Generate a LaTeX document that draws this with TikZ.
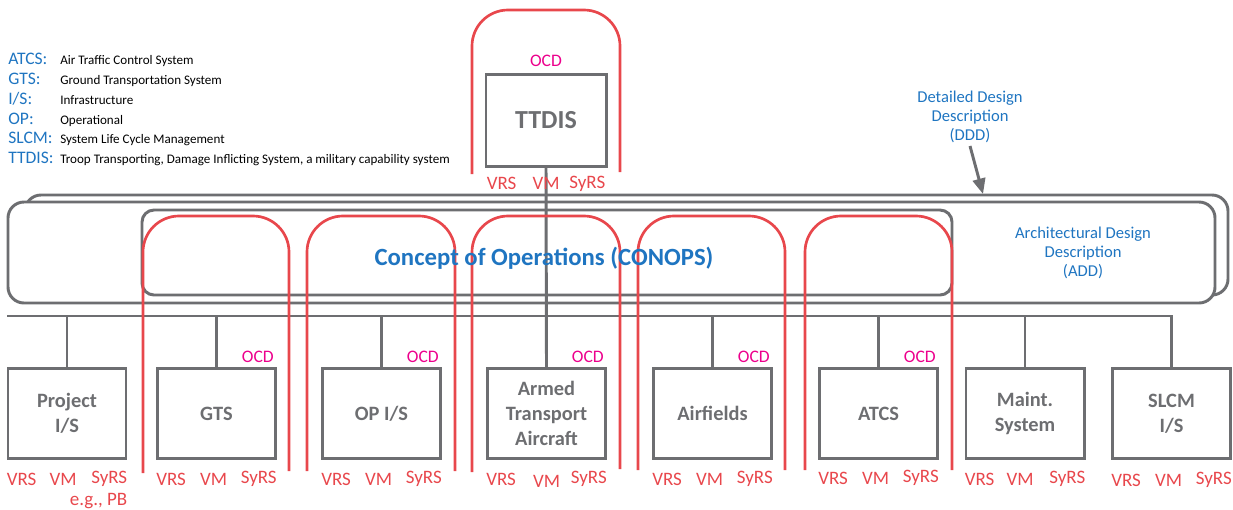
\documentclass[tikz,border=0pt]{standalone}
\usepackage{fontspec}
\setmainfont{Carlito}
\usetikzlibrary{arrows.meta,calc}

\definecolor{sysgray}{HTML}{6D6E71}
\definecolor{docred}{HTML}{E8474C}
\definecolor{ocdpink}{HTML}{EC008C}
\definecolor{descblue}{HTML}{1F75C1}

\begin{document}
\begin{tikzpicture}[x=0.025cm,y=-0.025cm,
    sysbox/.style={draw=sysgray, line width=2.1pt, minimum width=2.95cm, minimum height=2.25cm,
        align=center, text=sysgray, font=\bfseries\fontsize{14.5}{17.5}\selectfont},
    docline/.style={draw=sysgray, line width=2.1pt},
    busline/.style={draw=sysgray, line width=2.1pt},
    docarc/.style={draw=docred, line width=1.9pt, rounded corners=0.9cm},
    reqlbl/.style={text=docred, inner sep=0pt, font=\fontsize{13.5}{16}\selectfont},
    ocdlbl/.style={text=ocdpink, inner sep=0pt, font=\fontsize{12.5}{15}\selectfont},
    desclbl/.style={text=descblue, align=center, inner sep=0pt, font=\fontsize{11.8}{13.5}\selectfont},
    abbr/.style={text=descblue, inner sep=0pt, anchor=base west, font=\fontsize{12.5}{14}\selectfont},
    meaning/.style={text=black, inner sep=0pt, anchor=base west, font=\fontsize{9.3}{11}\selectfont}]
    \useasboundingbox (0,0) rectangle (1233,509);

    % legend
    \node[abbr] (abatcs) at (8,64) {ATCS:};
    \node[meaning] (mnatcs) at (60,64) {Air Traffic Control System};
    \node[abbr] (abgts) at (8,84) {GTS:};
    \node[meaning] (mngts) at (60,84) {Ground Transportation System};
    \node[abbr] (abis) at (8,104) {I/S:};
    \node[meaning] (mnis) at (60,104) {Infrastructure};
    \node[abbr] (abop) at (8,124) {OP:};
    \node[meaning] (mnop) at (60,124) {Operational};
    \node[abbr] (abslcm) at (8,143) {SLCM:};
    \node[meaning] (mnslcm) at (60,143) {System Life Cycle Management};
    \node[abbr] (abttdis) at (8,163) {TTDIS:};
    \node[meaning] (mnttdis) at (60,163) {Troop Transporting, Damage Inflicting System, a military capability system};

    % DDD, ADD and CONOPS
    \draw[docline, rounded corners=0.4cm] (25,195) rectangle (1228,295);
    \draw[docline, fill=white, rounded corners=0.4cm] (8,202) rectangle (1215,303);
    \draw[docline, rounded corners=0.3cm] (142,210) rectangle (952,295);

    % top system
    \node[sysbox, minimum width=3cm, minimum height=2.28cm, font=\bfseries\fontsize{18.5}{22}\selectfont] (ttdis) at (546,120.5) {TTDIS};

    % subsystems
    \node[sysbox] (proj) at (67,413.5) {Project\\I/S};
    \node[sysbox] (gts) at (216.5,413.5) {GTS};
    \node[sysbox] (opis) at (381.5,413.5) {OP I/S};
    \node[sysbox] (armed) at (546.5,413.5) {Armed\\Transport\\Aircraft};
    \node[sysbox] (airf) at (712.5,413.5) {Airfields};
    \node[sysbox] (atcs) at (878.5,413.5) {ATCS};
    \node[sysbox] (maint) at (1025,413.5) {Maint.\\System};
    \node[sysbox] (slcm) at (1171.5,413.5) {SLCM\\I/S};

    % bus
    \coordinate (bus) at (7,316);
    \draw[busline] (ttdis.south) -- (armed.north);
    \draw[busline] (bus) -- (bus -| slcm.north) -- (slcm.north);
    \draw[busline] (proj.north) -- (proj.north |- bus);
    \draw[busline] (gts.north) -- (gts.north |- bus);
    \draw[busline] (opis.north) -- (opis.north |- bus);
    \draw[busline] (airf.north) -- (airf.north |- bus);
    \draw[busline] (atcs.north) -- (atcs.north |- bus);
    \draw[busline] (maint.north) -- (maint.north |- bus);

    % OCD arcs
    \draw[docarc] (472,174) -- (472,10) -- (620,10) -- (620,172);
    \draw[docarc] (143,473) -- (143,216) -- (289,216) -- (289,471);
    \draw[docarc] (307,471) -- (307,216) -- (455,216) -- (455,471);
    \draw[docarc] (472,472) -- (472,216) -- (620,216) -- (620,469);
    \draw[docarc] (638,470) -- (638,216) -- (785,216) -- (785,470);
    \draw[docarc] (805,470) -- (805,216) -- (952,216) -- (952,470);

    % texts in the document boxes
    \node[text=descblue, font=\bfseries\fontsize{17.6}{21}\selectfont] (conops) at (544,258) {Concept of Operations (CONOPS)};
    \node[desclbl] (addtxt) at (1083,253) {Architectural Design\\Description\\(ADD)};
    \node[desclbl] (dddtxt) at (970,117) {Detailed Design\\Description\\(DDD)};
    \coordinate (dddtip) at (983,194);
    \draw[draw=sysgray, line width=2.1pt, -{Triangle[length=11pt,width=9pt]}] ([yshift=-2pt]dddtxt.south) -- (dddtip);

    % OCD labels
    \node[ocdlbl, anchor=south] (ocdttdis) at ($(ttdis.north)+(0,-7)$) {OCD};
    \node[ocdlbl, anchor=south east] (ocdgts) at ($(gts.north east)+(-3,-4)$) {OCD};
    \node[ocdlbl, anchor=south east] (ocdopis) at ($(opis.north east)+(-3,-4)$) {OCD};
    \node[ocdlbl, anchor=south east] (ocdarmed) at ($(armed.north east)+(-3,-4)$) {OCD};
    \node[ocdlbl, anchor=south east] (ocdairf) at ($(airf.north east)+(-3,-4)$) {OCD};
    \node[ocdlbl, anchor=south east] (ocdatcs) at ($(atcs.north east)+(-3,-4)$) {OCD};

    % requirement labels
    \node[reqlbl, anchor=west] (vrsttdis) at ($(ttdis.south west)+(2,16)$) {VRS};
    \node[reqlbl] (vmttdis) at ($(ttdis.south)+(0,16)$) {VM};
    \node[reqlbl, anchor=east] (syrsttdis) at ($(ttdis.south east)+(-2,16)$) {SyRS};
    \node[reqlbl, anchor=west] (vrsproj) at ($(proj.south west)+(0,19)$) {VRS};
    \node[reqlbl] (vmproj) at ($(proj.south)+(-4,19)$) {VM};
    \node[reqlbl, anchor=east] (syrsproj) at ($(proj.south east)+(0,19)$) {SyRS};
    \node[reqlbl, anchor=east] (egproj) at ($(proj.south east)+(0,41)$) {e.g., PB};
    \node[reqlbl, anchor=west] (vrsgts) at ($(gts.south west)+(0,19)$) {VRS};
    \node[reqlbl] (vmgts) at ($(gts.south)+(-3,19)$) {VM};
    \node[reqlbl, anchor=east] (syrsgts) at ($(gts.south east)+(0,19)$) {SyRS};
    \node[reqlbl, anchor=west] (vrsopis) at ($(opis.south west)+(0,19)$) {VRS};
    \node[reqlbl] (vmopis) at ($(opis.south)+(-3,19)$) {VM};
    \node[reqlbl, anchor=east] (syrsopis) at ($(opis.south east)+(0,19)$) {SyRS};
    \node[reqlbl, anchor=west] (vrsarmed) at ($(armed.south west)+(0,19)$) {VRS};
    \node[reqlbl] (vmarmed) at ($(armed.south)+(0,21)$) {VM};
    \node[reqlbl, anchor=east] (syrsarmed) at ($(armed.south east)+(0,19)$) {SyRS};
    \node[reqlbl, anchor=west] (vrsairf) at ($(airf.south west)+(0,19)$) {VRS};
    \node[reqlbl] (vmairf) at ($(airf.south)+(-3,19)$) {VM};
    \node[reqlbl, anchor=east] (syrsairf) at ($(airf.south east)+(0,19)$) {SyRS};
    \node[reqlbl, anchor=west] (vrsatcs) at ($(atcs.south west)+(0,18)$) {VRS};
    \node[reqlbl] (vmatcs) at ($(atcs.south)+(-3,18)$) {VM};
    \node[reqlbl, anchor=east] (syrsatcs) at ($(atcs.south east)+(0,18)$) {SyRS};
    \node[reqlbl, anchor=west] (vrsmaint) at ($(maint.south west)+(0,19)$) {VRS};
    \node[reqlbl] (vmmaint) at ($(maint.south)+(-5,19)$) {VM};
    \node[reqlbl, anchor=east] (syrsmaint) at ($(maint.south east)+(0,19)$) {SyRS};
    \node[reqlbl, anchor=west] (vrsslcm) at ($(slcm.south west)+(0,20)$) {VRS};
    \node[reqlbl] (vmslcm) at ($(slcm.south)+(-3,20)$) {VM};
    \node[reqlbl, anchor=east] (syrsslcm) at ($(slcm.south east)+(0,20)$) {SyRS};
\end{tikzpicture}
\end{document}
